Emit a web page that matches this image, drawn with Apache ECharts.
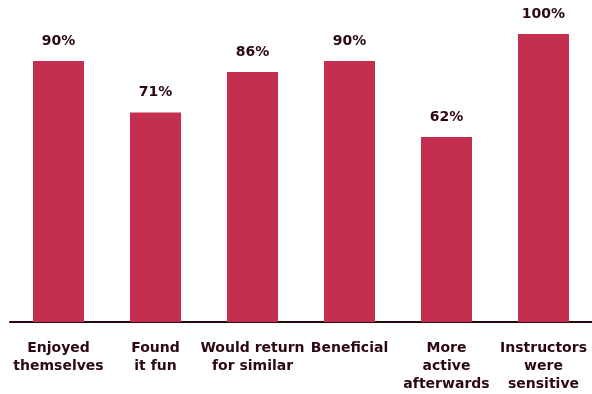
<!DOCTYPE html>
<html lang="en">
<head>
	<title>Survey bar chart</title>
	<script type="text/javascript" src="https://cdn.jsdelivr.net/npm/echarts@6/dist/echarts.min.js"></script>
	<style>
		html, body { margin: 0; padding: 0; background: #fff; }
	</style>
</head>
<body>
<div id="main" style="width: 592px;height:394px;"></div>
<script type="text/javascript">
    // categories and values
    var categories = ['Enjoyed\nthemselves', 'Found\nit fun', 'Would return\nfor similar', 'Beneficial', 'More\nactive\nafterwards', 'Instructors\nwere\nsensitive'];
    var percents = [90, 71, 86, 90, 62, 100];

    var myChart = echarts.init(document.getElementById('main'));

    var textColor = '#2c0810';
    var font = 'DejaVu Sans';

    var option = {
        animation: false,
        grid: { left: 10, right: 0, top: 34, bottom: 72, containLabel: false, outerBoundsMode: 'none' },
        xAxis: {
            type: 'category',
            data: categories,
            axisTick: { show: false },
            axisLine: { onZero: false, lineStyle: { color: '#2c0810', width: 2 } },
            axisLabel: {
                interval: 0,
                margin: 17,
                color: textColor,
                fontFamily: font,
                fontWeight: 'bold',
                fontSize: 14,
                lineHeight: 18
            }
        },
        yAxis: {
            type: 'value',
            min: -6.3,
            max: 100,
            startValue: -6.3,
            show: false,
            splitLine: { show: false }
        },
        series: [{
            type: 'bar',
            data: percents,
            barWidth: 51,
            itemStyle: { color: '#c42f50' },
            label: {
                show: true,
                position: 'top',
                distance: 5,
                formatter: '{c}%',
                color: textColor,
                fontFamily: font,
                fontWeight: 'bold',
                fontSize: 14
            }
        }]
    };
    myChart.setOption(option);
</script>
</body>
</html>
